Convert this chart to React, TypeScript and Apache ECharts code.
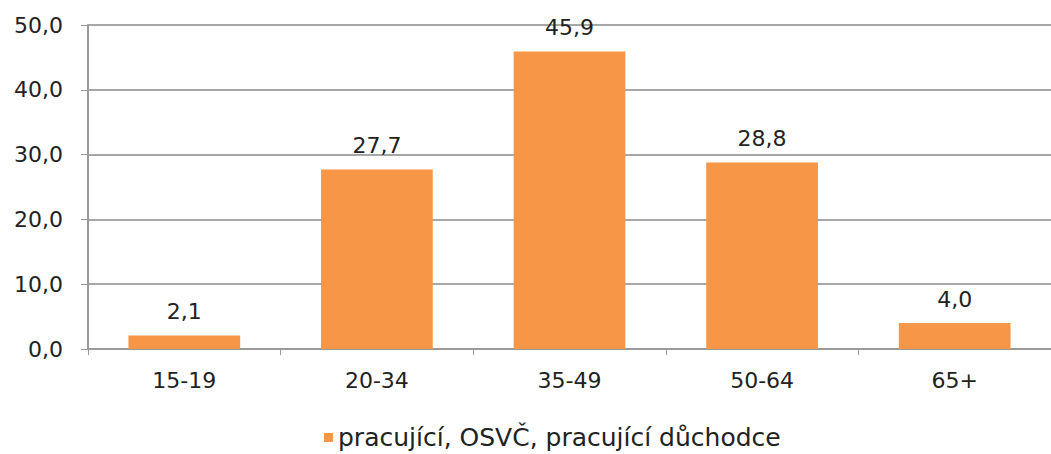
import React, { useEffect, useRef } from "react";
import * as echarts from "echarts";

const categories = ["15-19", "20-34", "35-49", "50-64", "65+"];
const values = [2.1, 27.7, 45.9, 28.8, 4.0];
const seriesName = "pracující, OSVČ, pracující důchodce";
const yMin = 0;
const yMax = 50;
const yInterval = 10;

const fmt = (v: number) => v.toFixed(1).replace(".", ",");

export default function App() {
  const ref = useRef<HTMLDivElement>(null);
  useEffect(() => {
    if (!ref.current) return;
    const chart = echarts.init(ref.current, undefined, { renderer: "svg" });
    const font = "DejaVu Sans, sans-serif";
    chart.setOption({
      animation: false,
      backgroundColor: "#ffffff",
      textStyle: { fontFamily: font },
      grid: { left: 88, top: 25, width: 968, height: 324, containLabel: false },
      legend: {
        data: [seriesName],
        top: 420,
        left: 319,
        itemWidth: 9,
        itemHeight: 9,
        itemGap: 5,
        icon: "rect",
        textStyle: { fontSize: 25, color: "#222", fontFamily: font },
      },
      xAxis: {
        type: "category",
        data: categories,
        axisLine: { lineStyle: { color: "#9a9a9a", width: 2 } },
        axisTick: { show: true, length: 6, lineStyle: { color: "#9a9a9a", width: 1 } },
        axisLabel: { color: "#222", fontSize: 22, margin: 20, fontFamily: font },
      },
      yAxis: {
        type: "value",
        min: yMin,
        max: yMax,
        interval: yInterval,
        axisLine: { show: true, lineStyle: { color: "#9a9a9a", width: 2 } },
        axisTick: { show: true, length: 7, inside: false, lineStyle: { color: "#9a9a9a" } },
        splitLine: { lineStyle: { color: "#8a8a8a", width: 1.5 } },
        axisLabel: {
          color: "#222",
          fontSize: 22,
          margin: 25,
          fontFamily: font,
          formatter: (v: number) => fmt(v),
        },
      },
      series: [
        {
          name: seriesName,
          type: "bar",
          data: values,
          barCategoryGap: "42%",
          itemStyle: { color: "#F79646" },
          label: {
            show: true,
            position: "top",
            distance: 13,
            color: "#222",
            fontSize: 22,
            fontFamily: font,
            formatter: (p: any) => fmt(p.value),
          },
        },
      ],
    });
    return () => chart.dispose();
  }, []);
  return (
    <div
      ref={ref}
      style={{ position: "absolute", left: 0, top: 0, width: 1051, height: 454 }}
    />
  );
}
